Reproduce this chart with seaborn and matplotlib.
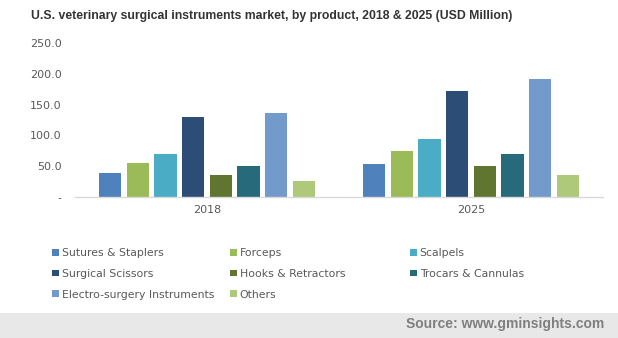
import matplotlib
matplotlib.use("Agg")
import matplotlib.pyplot as plt
import seaborn as sns
import pandas as pd

years = ["2018", "2025"]
products = [
    "Sutures & Staplers", "Forceps", "Scalpels", "Surgical Scissors",
    "Hooks & Retractors", "Trocars & Cannulas", "Electro-surgery Instruments", "Others",
]
values_2018 = [39.0, 55.0, 70.0, 130.0, 36.0, 50.0, 136.5, 26.0]
values_2025 = [53.5, 75.0, 94.0, 172.0, 50.0, 70.0, 191.5, 36.0]
colors = ["#4f81bd", "#9bbb59", "#4bacc6", "#2c4d75", "#5f7530", "#276a7c", "#729aca", "#afc97a"]
y_ticks = [0, 50, 100, 150, 200, 250]
y_tick_labels = ["-", "50.0", "100.0", "150.0", "200.0", "250.0"]

rows = []
for year, vals in zip(years, [values_2018, values_2025]):
    for prod, v in zip(products, vals):
        rows.append({"year": year, "product": prod, "value": v})
df = pd.DataFrame(rows)

sns.set_theme(style="white")
plt.rcParams["font.family"] = ["DejaVu Sans"]

W, H = 618, 338
fig = plt.figure(figsize=(W / 100, H / 100), dpi=100)
ax = fig.add_axes([75 / W, (H - 197) / H, (603 - 75) / W, (197 - 43) / H])

sns.barplot(data=df, x="year", y="value", hue="product", order=years,
            hue_order=products, palette=colors, width=0.84, gap=0.2,
            saturation=1, linewidth=0, edgecolor="none", ax=ax, legend=True)

ax.set_ylim(0, 250)
ax.set_yticks(y_ticks)
ax.set_yticklabels(y_tick_labels)
ax.set_xlabel("")
ax.set_ylabel("")
ax.tick_params(axis="both", length=0, colors="#595959", labelsize=8)
ax.tick_params(axis="y", pad=9.5)
ax.tick_params(axis="x", pad=6)
for side in ["top", "right", "left"]:
    ax.spines[side].set_visible(False)
ax.spines["bottom"].set_color("#d9d9d9")
ax.spines["bottom"].set_linewidth(1.0)
ax.grid(False)

handles, labels = ax.get_legend_handles_labels()
ax.get_legend().remove()

# Legend laid out row-major in three fixed columns
col_x = [52, 230, 410]
for c in range(3):
    idx = list(range(c, len(products), 3))
    leg = fig.legend([handles[i] for i in idx], [labels[i] for i in idx],
                     loc="upper left", bbox_to_anchor=(col_x[c] / W, (H - 248) / H),
                     frameon=False, fontsize=7.8, handlelength=0.6, handleheight=0.6,
                     handletextpad=0.3, labelspacing=1.0, borderpad=0, borderaxespad=0)
    for t in leg.get_texts():
        t.set_color("#595959")

fig.text(272 / W, (H - 16) / H,
         "U.S. veterinary surgical instruments market, by product, 2018 & 2025 (USD Million)",
         ha="center", va="center", fontsize=8.8, fontweight="bold",
         family="Liberation Sans", color="#333333")

fig.patches.append(plt.Rectangle((0, 0), 1, (H - 313) / H, transform=fig.transFigure,
                                 facecolor="#e8e8e8", edgecolor="none", zorder=0))
fig.text(604 / W, (H - 324) / H, "Source: www.gminsights.com", ha="right", va="center",
         fontsize=10, fontweight="bold", family="Liberation Sans", color="#7f7f7f")

fig.savefig("out.png", dpi=100, facecolor="white")
